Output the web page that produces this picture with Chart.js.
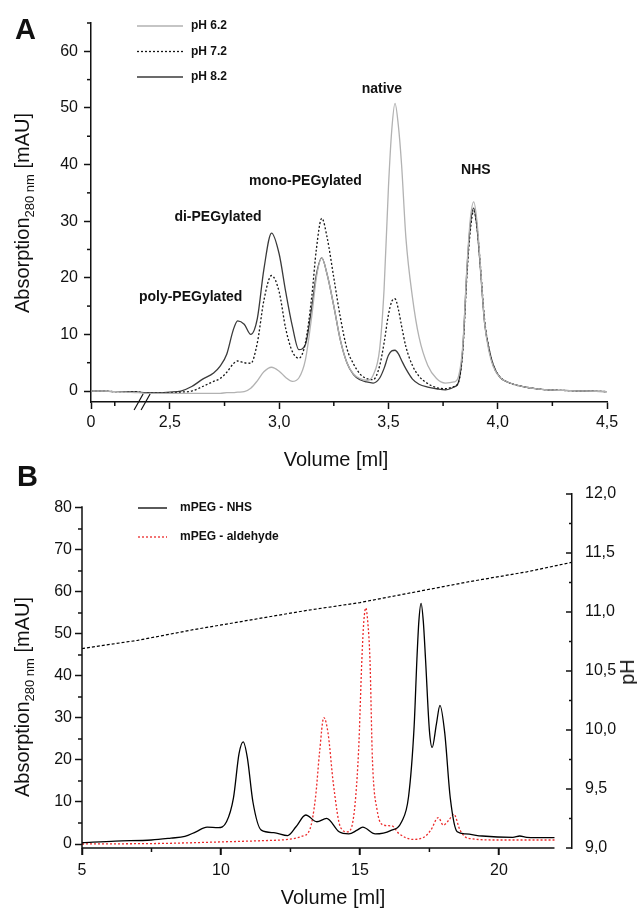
<!DOCTYPE html>
<html>
  <head>
    <meta charset="utf-8">
    <title>PEGylation chromatograms</title>
    <script src="https://cdn.jsdelivr.net/npm/chart.js"></script>
    <style>
      body { margin: 0; background: #fff; }
      #wrap { position: relative; width: 637px; height: 912px; font-family: 'Liberation Sans', Arial, sans-serif; color: #111; }
      canvas { position: absolute; left: 0; }
      .panel { position: absolute; font-size: 29px; font-weight: bold; line-height: 1; }
      .ytitle, .xtitle { position: absolute; white-space: nowrap; font-size: 20px; line-height: 1; }
      .ytitle { transform: translate(-50%, -50%) rotate(-90deg); }
      .xtitle { transform: translate(-50%, -50%); }
      .ytitle sub { font-size: 13px; line-height: 0; }
    </style>
  </head>
  <body>
    <div id="wrap">
      <canvas id="chartA" width="637" height="445" style="top:0"></canvas>
      <canvas id="chartB" width="637" height="467" style="top:445px"></canvas>
      <div class="panel" style="left:15px;top:15px">A</div>
      <div class="panel" style="left:17px;top:462px">B</div>
      <div class="ytitle" style="left:22px;top:213px">Absorption<sub>280 nm</sub> [mAU]</div>
      <div class="xtitle" style="left:336px;top:459px">Volume [ml]</div>
      <div class="ytitle" style="left:22px;top:697px">Absorption<sub>280 nm</sub> [mAU]</div>
      <div class="xtitle" style="left:333px;top:897px">Volume [ml]</div>
      <div class="ytitle" style="left:627px;top:672px">pH</div>
    </div>
    <script>
      // ---- panel A: elution at three pH values ----
      const volumeA = [0, 0.5, 1.0, 1.5, 2.0, 2.3, 2.45, 2.5, 2.55, 2.6, 2.65, 2.7, 2.73, 2.76, 2.79, 2.81, 2.84, 2.87, 2.9, 2.93, 2.965, 3.0, 3.03, 3.06, 3.09, 3.12, 3.15, 3.17, 3.195, 3.22, 3.25, 3.28, 3.31, 3.34, 3.37, 3.40, 3.43, 3.46, 3.48, 3.50, 3.515, 3.53, 3.545, 3.56, 3.58, 3.61, 3.64, 3.68, 3.72, 3.76, 3.80, 3.82, 3.84, 3.86, 3.875, 3.89, 3.905, 3.92, 3.94, 3.96, 3.98, 4.01, 4.05, 4.1, 4.2, 4.3, 4.4, 4.5];
      const ph62 = [0.0, 0.0, -0.1, -0.2, -0.3, -0.4, -0.4, -0.4, -0.4, -0.4, -0.4, -0.4, -0.4, -0.3, -0.3, -0.2, -0.1, 0.5, 1.8, 3.4, 4.2, 3.5, 2.4, 1.7, 2.3, 5.5, 13.5, 20.0, 23.5, 20.5, 15.0, 9.0, 5.0, 3.0, 2.2, 1.9, 2.8, 7.5, 18.0, 36.0, 46.0, 50.8, 47.0, 40.0, 27.0, 16.5, 9.5, 4.5, 2.2, 1.4, 1.6, 2.5, 8.0, 22.5, 30.5, 33.4, 30.0, 22.5, 12.0, 7.0, 4.3, 2.4, 1.5, 0.9, 0.3, 0.1, 0.0, -0.1];
      const ph72 = [0.0, 0.0, -0.1, -0.1, -0.2, -0.3, -0.3, -0.3, -0.2, 0.0, 0.8, 1.7, 2.2, 3.3, 4.8, 5.3, 5.0, 4.9, 8.5, 16.0, 20.4, 17.5, 11.0, 7.0, 5.8, 8.5, 17.0, 25.0, 30.5, 27.0, 20.0, 13.0, 7.5, 4.8, 3.0, 2.2, 2.0, 4.5, 8.5, 13.5, 15.8, 16.3, 14.5, 11.5, 7.8, 4.5, 2.6, 1.3, 0.6, 0.4, 0.8, 1.5, 7.0, 21.0, 28.5, 31.8, 29.0, 22.5, 12.5, 7.5, 4.5, 2.5, 1.5, 0.9, 0.3, 0.1, 0.0, -0.1];
      const ph82 = [0.0, 0.0, -0.1, -0.1, -0.2, -0.3, -0.3, -0.2, 0.0, 0.8, 2.1, 3.2, 4.4, 6.5, 10.8, 12.4, 11.8, 10.0, 12.8, 21.5, 27.9, 24.2, 17.5, 11.5, 7.3, 8.2, 15.0, 20.5, 23.5, 20.5, 15.0, 9.0, 5.0, 2.9, 2.0, 1.6, 1.4, 2.3, 4.0, 6.3, 7.1, 7.2, 6.6, 5.4, 3.9, 2.1, 1.2, 0.7, 0.4, 0.2, 0.7, 1.5, 7.5, 22.0, 29.5, 32.3, 29.0, 22.0, 12.0, 7.5, 4.6, 2.4, 1.5, 0.9, 0.3, 0.1, 0.0, -0.1];

      const xTicksA = [0, 2.5, 3.0, 3.5, 4.0, 4.5];
      const xTickLabelsA = ['0', '2,5', '3,0', '3,5', '4,0', '4,5'];
      const xMinorA = [1.0, 2.75, 3.25, 3.75, 4.25];
      const yTicksA = [0, 10, 20, 30, 40, 50, 60];
      const yMinorA = [5, 15, 25, 35, 45, 55, 65];

      const peakNames = ['poly-PEGylated', 'di-PEGylated', 'mono-PEGylated', 'native', 'NHS'];
      const peakNameVolume = [2.595, 2.72, 3.12, 3.47, 3.90];
      const peakNameAbs = [16.6, 30.7, 37.1, 53.3, 39.0];

      // ---- panel B: mPEG-NHS vs mPEG-aldehyde with pH gradient ----
      const nhsVolume = [5.0, 6.2, 7.5, 8.2, 8.7, 9.1, 9.5, 9.9, 10.2, 10.45, 10.65, 10.8, 10.95, 11.15, 11.45, 11.9, 12.4, 12.7, 13.05, 13.45, 13.8, 14.25, 14.6, 14.9, 15.1, 15.55, 16.1, 16.5, 16.75, 16.95, 17.05, 17.12, 17.2, 17.28, 17.36, 17.5, 17.6, 17.75, 17.88, 18.05, 18.25, 18.5, 18.8, 19.4, 20.5, 20.75, 21.0, 22.0];
      const nhsAbs = [0.3, 0.7, 0.95, 1.4, 1.8, 2.9, 4.0, 3.9, 5.3, 11.0, 21.5, 24.3, 20.5, 10.0, 3.3, 2.7, 2.0, 4.1, 6.9, 5.3, 6.1, 2.9, 2.4, 3.3, 4.0, 2.4, 3.2, 5.3, 11.3, 28.0, 44.0, 53.0, 57.3, 53.0, 44.0, 27.0, 23.0, 28.5, 33.0, 26.5, 11.0, 2.9, 2.4, 1.9, 1.6, 1.9, 1.6, 1.5];
      const aldVolume = [5.0, 8.0, 10.0, 11.5, 12.4, 12.9, 13.2, 13.4, 13.55, 13.7, 13.85, 14.05, 14.3, 14.55, 14.75, 14.95, 15.07, 15.14, 15.21, 15.28, 15.36, 15.45, 15.62, 15.85, 16.15, 16.4, 16.9, 17.3, 17.55, 17.82, 18.0, 18.2, 18.38, 18.6, 18.9, 20.0, 22.0];
      const aldAbs = [0.0, 0.15, 0.5, 0.8, 1.1, 1.8, 3.5, 11.0, 22.0, 30.1, 26.5, 14.0, 4.0, 2.9, 5.5, 22.0, 44.0, 53.0, 56.2, 53.0, 44.0, 20.0, 8.0, 4.5, 4.3, 2.5, 1.1, 1.6, 3.3, 6.3, 4.5, 5.7, 7.1, 3.3, 1.35, 0.95, 0.95];
      const phVolume = [5, 7, 9, 11, 13, 15, 17, 19, 21, 22.6];
      const phValue = [10.69, 10.76, 10.85, 10.93, 11.01, 11.08, 11.17, 11.26, 11.34, 11.42];

      const xTicksB = [5, 10, 15, 20];
      const xMinorB = [7.5, 12.5, 17.5];
      const yTicksB = [0, 10, 20, 30, 40, 50, 60, 70, 80];
      const yMinorB = [5, 15, 25, 35, 45, 55, 65, 75];
      const phTicks = [9.0, 9.5, 10.0, 10.5, 11.0, 11.5, 12.0];
      const phMinor = [9.25, 9.75, 10.25, 10.75, 11.25, 11.75];

      const ink = '#111';
      const fontFamily = "'Liberation Sans', Arial, sans-serif";
      Chart.defaults.font.family = fontFamily;
      Chart.defaults.color = ink;

      // the first 2.4 ml of panel A are squeezed in front of the axis break
      const axisZero = 2.139, breakEnd = 2.4;
      function toAxis(v) {
        return v >= breakEnd ? v : axisZero + v * (breakEnd - axisZero) / breakEnd;
      }
      function points(xs, ys, map) {
        return xs.map((x, i) => ({ x: map ? map(x) : x, y: ys[i] }));
      }
      function fixedTicks(values) {
        return scale => { scale.ticks = values.map(v => ({ value: v })); };
      }
      const lineStyle = { pointRadius: 0, borderWidth: 1.3, fill: false, cubicInterpolationMode: 'monotone' };
      const grid = { drawOnChartArea: false, drawTicks: true, tickLength: 7, tickColor: ink, tickWidth: 1.5 };
      const border = { color: ink, width: 1.5 };

      // extra drawing: minor ticks, axis break, inline legend, peak names
      const decor = {
        id: 'decor',
        afterDraw(chart, args, opts) {
          const { ctx, chartArea: ca, scales } = chart;
          ctx.save();
          ctx.strokeStyle = ink;
          ctx.lineWidth = 1.5;
          (opts.ticks || []).forEach(t => {
            const s = scales[t.axis];
            t.values.forEach(v => {
              const p = s.getPixelForValue(v);
              ctx.beginPath();
              if (s.isHorizontal()) {
                ctx.moveTo(p, ca.bottom); ctx.lineTo(p, ca.bottom + t.len);
              } else {
                const x0 = s.position === 'left' ? ca.left : ca.right;
                ctx.moveTo(x0, p); ctx.lineTo(x0 + t.len, p);
              }
              ctx.stroke();
            });
          });
          if (opts.axisLines) {
            const a = opts.axisLines;
            ctx.beginPath();
            ctx.moveTo(ca.left, scales.y.getPixelForValue(a.yTop));
            ctx.lineTo(ca.left, ca.bottom);
            ctx.lineTo(scales.x.getPixelForValue(a.xEnd), ca.bottom);
            ctx.stroke();
          }
          if (opts.breakAt !== undefined) {
            const bx = scales.x.getPixelForValue(opts.breakAt);
            ctx.lineWidth = 1.2;
            [-3.5, 3.5].forEach(d => {
              ctx.beginPath();
              ctx.moveTo(bx + d - 4.5, ca.bottom + 8);
              ctx.lineTo(bx + d + 4.5, ca.bottom - 8);
              ctx.stroke();
            });
          }
          if (opts.legend) {
            const lg = opts.legend;
            ctx.font = 'bold 12px ' + fontFamily;
            ctx.textBaseline = 'middle';
            ctx.textAlign = 'left';
            lg.items.forEach((di, row) => {
              const ds = chart.data.datasets[di];
              const y = ca.top + lg.dy + row * lg.gap;
              ctx.save();
              ctx.strokeStyle = ds.borderColor;
              ctx.lineWidth = ds.borderWidth;
              ctx.setLineDash(ds.borderDash || []);
              ctx.beginPath();
              ctx.moveTo(ca.left + lg.dx, y);
              ctx.lineTo(ca.left + lg.dx + lg.len, y);
              ctx.stroke();
              ctx.restore();
              ctx.fillStyle = ink;
              ctx.fillText(ds.label, ca.left + lg.textDx, y);
            });
          }
          if (opts.names) {
            ctx.font = 'bold 14px ' + fontFamily;
            ctx.textAlign = 'center';
            ctx.textBaseline = 'middle';
            ctx.fillStyle = ink;
            opts.names.text.forEach((t, i) => {
              ctx.fillText(t, scales.x.getPixelForValue(toAxis(opts.names.x[i])), scales.y.getPixelForValue(opts.names.y[i]));
            });
          }
          ctx.restore();
        }
      };

      new Chart(document.getElementById('chartA'), {
        type: 'line',
        data: {
          datasets: [
            { label: 'pH 6.2', data: points(volumeA, ph62, toAxis), borderColor: '#b2b2b2', ...lineStyle },
            { label: 'pH 7.2', data: points(volumeA, ph72, toAxis), borderColor: '#151515', borderDash: [2, 2], ...lineStyle },
            { label: 'pH 8.2', data: points(volumeA, ph82, toAxis), borderColor: '#3a3a3a', ...lineStyle }
          ]
        },
        options: {
          responsive: false,
          animation: false,
          layout: { padding: { top: 23, right: 30, bottom: 3, left: 0 } },
          scales: {
            x: {
              type: 'linear', min: axisZero, max: 4.5,
              afterBuildTicks: fixedTicks(xTicksA.map(toAxis)),
              afterFit: s => { s.height = 40; },
              ticks: { callback: (v, i) => xTickLabelsA[i], font: { size: 16 }, padding: 4, maxRotation: 0, autoSkip: false },
              grid, border
            },
            y: {
              min: -1.94, max: 65,
              afterBuildTicks: fixedTicks(yTicksA),
              afterFit: s => { s.width = 91; },
              ticks: { font: { size: 16 }, padding: 6 },
              grid, border
            }
          },
          plugins: {
            legend: { display: false },
            tooltip: { enabled: false },
            decor: {
              ticks: [{ axis: 'x', values: xMinorA.map(toAxis), len: 4 }, { axis: 'y', values: yMinorA, len: -4 }],
              breakAt: toAxis(2.15),
              legend: { items: [0, 1, 2], dx: 46, len: 46, textDx: 100, dy: 3, gap: 25.5 },
              names: { text: peakNames, x: peakNameVolume, y: peakNameAbs }
            }
          }
        },
        plugins: [decor]
      });

      new Chart(document.getElementById('chartB'), {
        type: 'line',
        data: {
          datasets: [
            { label: 'mPEG - NHS', data: points(nhsVolume, nhsAbs), borderColor: '#000', ...lineStyle },
            { label: 'mPEG - aldehyde', data: points(aldVolume, aldAbs), borderColor: '#ec2a2a', borderDash: [2, 2], ...lineStyle },
            { label: 'pH', data: points(phVolume, phValue), yAxisID: 'yPh', borderColor: '#000', borderDash: [3, 2], ...lineStyle, borderWidth: 1.2, cubicInterpolationMode: 'default', tension: 0 }
          ]
        },
        options: {
          responsive: false,
          animation: false,
          layout: { padding: { top: 49, right: 15, bottom: 3, left: 0 } },
          scales: {
            x: {
              type: 'linear', min: 5, max: 22.63,
              afterBuildTicks: fixedTicks(xTicksB),
              afterFit: s => { s.height = 61; },
              ticks: { font: { size: 16 }, padding: 6, maxRotation: 0 },
              grid, border: { display: false }
            },
            y: {
              position: 'left', min: -0.952, max: 83.33,
              afterBuildTicks: fixedTicks(yTicksB),
              afterFit: s => { s.width = 82; },
              ticks: { font: { size: 16 }, padding: 3 },
              grid, border: { display: false }
            },
            yPh: {
              position: 'right', min: 9, max: 12,
              afterBuildTicks: fixedTicks(phTicks),
              afterFit: s => { s.width = 50; },
              ticks: { font: { size: 16 }, padding: 13, callback: v => v.toFixed(1).replace('.', ',') },
              grid: { drawOnChartArea: false, drawTicks: false },
              border
            }
          },
          plugins: {
            legend: { display: false },
            tooltip: { enabled: false },
            decor: {
              ticks: [
                { axis: 'x', values: xTicksB, len: 7 },
                { axis: 'x', values: xMinorB, len: 4 },
                { axis: 'y', values: yMinorB, len: -4 },
                { axis: 'yPh', values: phTicks, len: -6 },
                { axis: 'yPh', values: phMinor, len: -3 }
              ],
              axisLines: { yTop: 80.4, xEnd: 22 },
              legend: { items: [0, 1], dx: 56, len: 29, textDx: 98, dy: 14, gap: 29 }
            }
          }
        },
        plugins: [decor]
      });
    </script>
  </body>
</html>
